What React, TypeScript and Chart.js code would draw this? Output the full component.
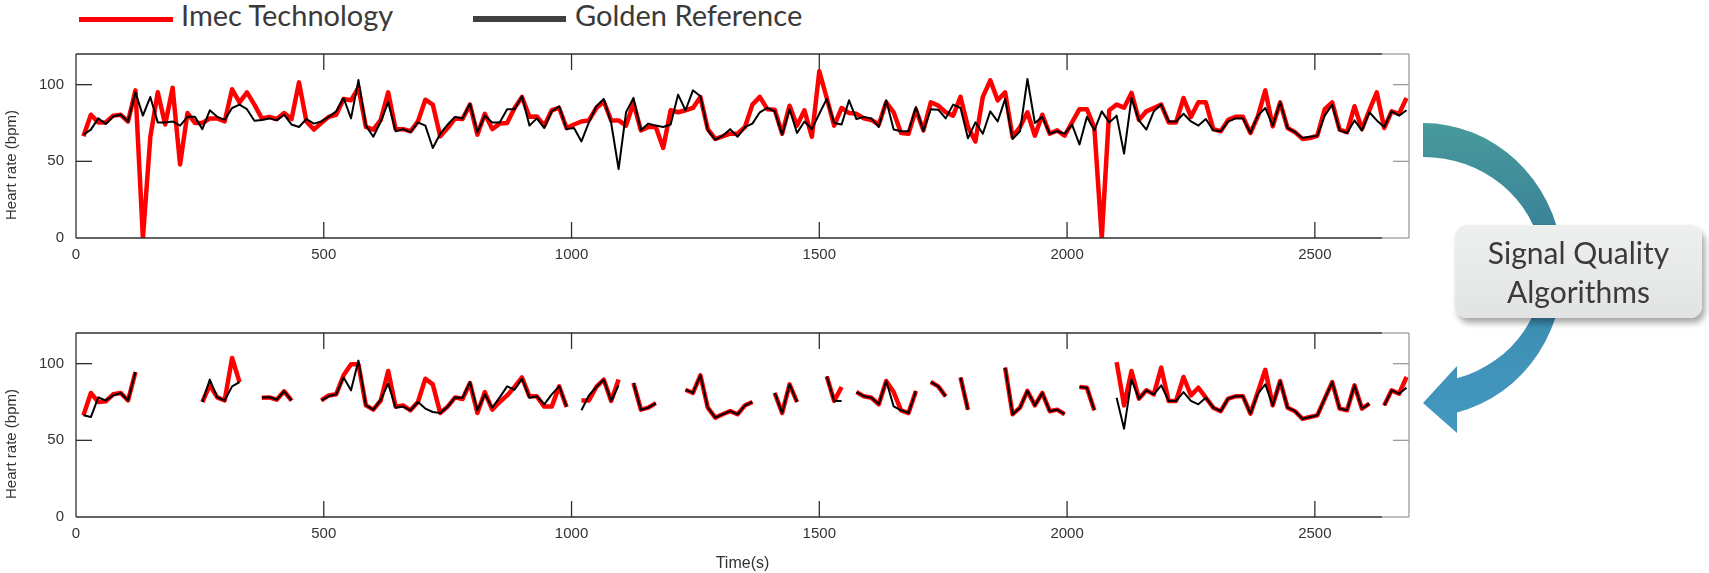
import React, { useEffect, useRef } from 'react';
import { Chart, registerables } from 'chart.js';

Chart.register(...registerables);

// ---------- data ----------
const timeSec = [
  15, 30, 45, 60, 75, 90, 105, 120, 135, 150, 165, 180,
  195, 210, 225, 240, 255, 270, 285, 300, 315, 330, 345, 360,
  375, 390, 405, 420, 435, 450, 465, 480, 495, 510, 525, 540,
  555, 570, 585, 600, 615, 630, 645, 660, 675, 690, 705, 720,
  735, 750, 765, 780, 795, 810, 825, 840, 855, 870, 885, 900,
  915, 930, 945, 960, 975, 990, 1005, 1020, 1035, 1050, 1065, 1080,
  1095, 1110, 1125, 1140, 1155, 1170, 1185, 1200, 1215, 1230, 1245, 1260,
  1275, 1290, 1305, 1320, 1335, 1350, 1365, 1380, 1395, 1410, 1425, 1440,
  1455, 1470, 1485, 1500, 1515, 1530, 1545, 1560, 1575, 1590, 1605, 1620,
  1635, 1650, 1665, 1680, 1695, 1710, 1725, 1740, 1755, 1770, 1785, 1800,
  1815, 1830, 1845, 1860, 1875, 1890, 1905, 1920, 1935, 1950, 1965, 1980,
  1995, 2010, 2025, 2040, 2055, 2070, 2085, 2100, 2115, 2130, 2145, 2160,
  2175, 2190, 2205, 2220, 2235, 2250, 2265, 2280, 2295, 2310, 2325, 2340,
  2355, 2370, 2385, 2400, 2415, 2430, 2445, 2460, 2475, 2490, 2505, 2520,
  2535, 2550, 2565, 2580, 2595, 2610, 2625, 2640, 2655, 2670, 2685,
];

// Top panel: raw Imec estimate
const imecRaw = [
  66.3, 80.4, 75.4, 75.4, 79.8, 80.4, 76, 96.3, 0, 66, 95, 74,
  98, 48, 81.5, 75, 75, 78, 78, 76, 97, 88.5, 95, 87,
  78, 79, 77.6, 81.5, 77.6, 101.5, 76, 70.7, 75, 79, 80.4, 90.7,
  89.8, 98, 72.4, 70.7, 77, 95, 71, 71, 69.6, 76, 90.2, 87,
  66.3, 71.7, 78, 77.6, 87, 67.4, 81, 71, 74.6, 75, 84.8, 92,
  79, 79.3, 73.3, 83.3, 84.8, 71.7, 74, 76, 76.7, 84.8, 89, 76.7,
  76.7, 73.3, 88, 70.2, 72.4, 72.4, 58.7, 83.3, 82, 83.3, 84.8, 92,
  71, 64.6, 66.3, 68, 68, 72.4, 87, 92, 84, 83.7, 68, 86.3,
  73.3, 83.3, 66, 108.7, 91.3, 73.3, 84.8, 81.5, 81, 78, 77, 74,
  88.5, 82, 68.5, 68, 83.7, 70.2, 88.5, 86.3, 82, 79.8, 92, 72.4,
  63, 92, 102.8, 89.8, 95, 66, 72.4, 82, 66.7, 80.4, 68, 70.2,
  66.7, 75.4, 84, 84, 72, 0, 83.3, 87, 85, 94.6, 77, 82.6,
  84.8, 87, 75.4, 75.4, 91.3, 79, 88.5, 88.5, 71, 69.6, 77, 79,
  79, 68.5, 79.3, 96.3, 72.8, 88.5, 71.7, 69, 64.6, 65.2, 66.7, 84,
  88.5, 70.7, 69, 85.9, 71, 83.3, 95, 71.7, 82.6, 81, 91.3,
];

// Top panel: golden reference
const goldenRaw = [
  67.4, 70.7, 78, 74.3, 79.3, 80.4, 76, 95, 79.8, 92, 75.4, 75.4,
  76, 73.3, 79, 79, 71, 83.3, 79, 77, 84.8, 87, 84, 76.5,
  77, 78, 76.7, 80.4, 74, 72.4, 77.6, 74.6, 76, 79, 82.6, 91.3,
  78, 103, 73.3, 66, 76, 88.5, 69.6, 71, 69, 75.4, 73.3, 58.7,
  68, 74, 79, 78, 87.6, 69, 79.8, 75.4, 75.4, 84, 84, 92.4,
  73.3, 78, 71.7, 82.6, 85.9, 71, 71.7, 63, 75.4, 85.9, 90.7, 75,
  45, 82, 91.3, 70.2, 74.6, 73.3, 72.4, 74, 93.5, 83.3, 96.3, 92.4,
  70.2, 64, 66.7, 71, 66, 72.4, 74.6, 82, 84.8, 82.6, 67.4, 84,
  68.5, 76, 71, 81, 90.7, 75, 74, 89.8, 77.6, 79, 78, 72.4,
  89.8, 70.7, 69.6, 69.6, 85.4, 69.6, 84, 83.7, 78, 87, 84.8, 65,
  75.4, 68, 82.6, 76, 90.7, 64.6, 69.6, 103.7, 75, 79, 68, 69.6,
  68, 74, 61, 79, 70.2, 82.6, 75.4, 79.8, 55, 91.3, 76.7, 70.7,
  82.6, 87, 76, 76, 81, 76, 73.3, 77.6, 70.2, 69.6, 76, 78,
  78, 68.5, 79.8, 84.8, 73.3, 88.5, 71.7, 69, 65.2, 66, 66.7, 79.8,
  87, 70.2, 68.5, 76.7, 70.2, 82, 76.7, 72.4, 82.6, 79.8, 83.3,
];

// Bottom panel: Imec after signal-quality filtering (null = rejected)
const imecFiltered = [
  66.3, 80.9, 75, 75.5, 80, 80.9, 76, 94.6, null, null, null, null,
  null, null, null, null, 75, 86, 78, 76, 103.7, 88, null, null,
  77.8, 78, 76.5, 82, 76, null, null, null, 76, 79.3, 80, 92.4,
  99.6, 99.6, 72.8, 70, 76, 95.2, 72, 72.8, 69.6, 75, 90.2, 86.5,
  67.8, 72, 78, 77, 87.4, 67.8, 81.5, 70, 75, 79.3, 84.8, 91,
  78.7, 78.7, 72, 72, 85.2, 71.7, null, 76, 76, 84.8, 89.6, 75.7,
  89.6, null, 87.4, 70, 71.3, 74.3, null, null, null, 83, 80.9, 92.4,
  71.3, 64.8, 67, 69, 67, 72.8, 75, null, null, 80.9, 67.8, 86.5,
  75, null, null, null, 91.7, 75.7, 84.8, null, 81.5, 78.7, 77.8, 73.5,
  88.7, 81.5, 69.6, 67.8, 82.2, null, 88, 85.2, 78.7, null, 91, 70,
  null, null, null, null, 97.4, 67, 71.3, 82.2, 72.8, 80.9, 69, 70,
  67, null, 84.8, 84.3, 69.6, null, null, 101, 72.8, 95.2, 77.2, 82.6,
  80, 97.4, 75.7, 75.7, 91.3, 79.3, 84.3, 77.8, 71.3, 69, 77.2, 78.7,
  78.7, 67.4, 81.5, 96, 72.8, 88.7, 71.3, 69, 64, 65.2, 66.3, 77.2,
  88, 70.7, 69.6, 85.9, 70.7, 73.9, null, 72.8, 82.6, 80.4, 91.3,
];

// Bottom panel: golden reference at the accepted instants
const goldenFiltered = [
  66.3, 65.2, 78, 76, 79.3, 80.9, 76, 94.6, null, null, null, null,
  null, null, null, null, 75, 89.6, 78, 76, 85.2, 88, null, null,
  78, 78.3, 76.5, 82, 76, null, null, null, 76, 78.7, 80, 91,
  82.6, 102, 72.8, 70, 76.5, 87, 71.3, 72, 69.6, 75, 70.7, 68.5,
  67.8, 72, 78, 77.8, 88, 69.6, 80, 71.3, 78, 85.2, 83, 90.2,
  77.8, 78.7, 73.5, 80, 85.2, 72, null, 69.6, 79.3, 84.8, 89.6, 75.7,
  85.9, null, 87.4, 70, 71.3, 74.3, null, null, null, 83, 80.9, 92.4,
  71.3, 64.8, 67, 69, 67, 72.8, 75, null, null, 80.9, 67.8, 86.5,
  75, null, null, null, 91.7, 75.7, 75.7, null, 81.5, 78.7, 77.8, 73.5,
  88.7, 72.2, 69.6, 67.8, 82.2, null, 88, 85.2, 78.7, null, 91, 70,
  null, null, null, null, 97.4, 67, 71.3, 82.2, 72.8, 80.9, 69, 70,
  67, null, 84.8, 84.3, 69.6, null, null, 77.8, 57.6, 89.6, 77.2, 82.6,
  80, 85.9, 75.7, 75.7, 81.5, 75.7, 73.5, 77.8, 71.3, 69, 77.2, 78.7,
  78.7, 67.4, 80.4, 86.5, 72.8, 88.7, 71.3, 69, 64, 65.2, 66.3, 77.2,
  88, 70.7, 69.6, 85.9, 70.7, 73.9, null, 72.8, 82.6, 80.4, 84.3,
];

const xTickValues = [0, 500, 1000, 1500, 2000, 2500];
const yTickValues = [0, 50, 100];
const X_MAX = 2690;
const Y_MAX = 120;

const seriesNames = ['Imec Technology', 'Golden Reference'];
const yAxisLabel = 'Heart rate (bpm)';
const xAxisLabel = 'Time(s)';
const boxLines = ['Signal Quality', 'Algorithms'];

// ---------- styling ----------
const AXIS_FONT = '"Liberation Sans", Arial, Helvetica, sans-serif';
const HUMANIST_FONT = 'Lato, "Open Sans", sans-serif';
const RED = '#ff0000';
const BLACK = '#000000';
const TEXT = '#333333';

const framePlugin = {
  id: 'matlabFrame',
  afterDraw(chart: any, _args: any, opts: any) {
    const { ctx, chartArea } = chart;
    const { left, right, top, bottom } = chartArea;
    const xs = chart.scales.x;
    const ys = chart.scales.y;
    const dark = '#2e2e2e';
    const light = '#9c9c9c';
    const fade = right - 27;
    ctx.save();
    ctx.lineWidth = 1.3;
    const seg = (x1: number, y1: number, x2: number, y2: number, c: string) => {
      ctx.strokeStyle = c;
      ctx.beginPath();
      ctx.moveTo(x1, y1);
      ctx.lineTo(x2, y2);
      ctx.stroke();
    };
    seg(left, top, fade, top, dark);
    seg(fade, top, right, top, light);
    seg(left, bottom, fade, bottom, dark);
    seg(fade, bottom, right, bottom, light);
    seg(left, top, left, bottom, dark);
    seg(right, top, right, bottom, light);
    const tl = 16;
    xTickValues.forEach((v) => {
      const px = xs.getPixelForValue(v);
      if (px <= left + 1) return;
      seg(px, bottom, px, bottom - tl, dark);
      seg(px, top, px, top + tl, dark);
    });
    yTickValues.forEach((v) => {
      const py = ys.getPixelForValue(v);
      if (py >= bottom - 1) return;
      seg(left, py, left + tl, py, dark);
      seg(right, py, right - tl, py, light);
    });
    if (opts && opts.yLabel) {
      ctx.translate(11.5, (top + bottom) / 2 + 19);
      ctx.rotate(-Math.PI / 2);
      ctx.font = `15px ${AXIS_FONT}`;
      ctx.fillStyle = TEXT;
      ctx.textAlign = 'center';
      ctx.textBaseline = 'middle';
      ctx.fillText(opts.yLabel, 0, 0);
    }
    ctx.restore();
  },
};

function toPoints(values: (number | null)[]) {
  return timeSec.map((t, i) => ({ x: t, y: values[i] }));
}

type PanelProps = {
  imec: (number | null)[];
  golden: (number | null)[];
  width: number;
  height: number;
  padTop: number;
  padRight: number;
  xAxisHeight: number;
  showXTitle: boolean;
};

function Panel(p: PanelProps) {
  const ref = useRef<HTMLCanvasElement | null>(null);
  useEffect(() => {
    if (!ref.current) return;
    const chart = new Chart(ref.current, {
      type: 'line',
      data: {
        datasets: [
          {
            label: seriesNames[1],
            data: toPoints(p.golden) as any,
            borderColor: BLACK,
            backgroundColor: BLACK,
            borderWidth: 2,
            borderJoinStyle: 'round',
            pointRadius: 0,
            tension: 0,
            spanGaps: false,
            order: 0,
          },
          {
            label: seriesNames[0],
            data: toPoints(p.imec) as any,
            borderColor: RED,
            backgroundColor: RED,
            borderWidth: 4.5,
            borderJoinStyle: 'round',
            pointRadius: 0,
            tension: 0,
            spanGaps: false,
            order: 1,
          },
        ],
      },
      options: {
        responsive: false,
        animation: false,
        devicePixelRatio: 1,
        events: [],
        layout: { padding: { top: p.padTop, right: p.padRight, left: 0, bottom: 0 } },
        plugins: {
          legend: { display: false },
          tooltip: { enabled: false },
          matlabFrame: { yLabel: yAxisLabel },
        } as any,
        scales: {
          x: {
            type: 'linear',
            min: 0,
            max: X_MAX,
            afterBuildTicks: (s: any) => {
              s.ticks = xTickValues.map((v) => ({ value: v }));
            },
            afterFit: (s: any) => {
              s.height = p.xAxisHeight;
            },
            grid: { display: false, drawTicks: false },
            border: { display: false },
            ticks: {
              padding: 8,
              color: TEXT,
              maxRotation: 0,
              autoSkip: false,
              font: { size: 15, family: AXIS_FONT },
              callback: (v: any) => String(v),
            },
            title: {
              display: p.showXTitle,
              text: xAxisLabel,
              color: TEXT,
              font: { size: 16, family: AXIS_FONT },
              padding: { top: 0, bottom: 0 },
            },
          },
          y: {
            type: 'linear',
            min: 0,
            max: Y_MAX,
            afterBuildTicks: (s: any) => {
              s.ticks = yTickValues.map((v) => ({ value: v }));
            },
            afterFit: (s: any) => {
              s.width = 76;
            },
            grid: { display: false, drawTicks: false },
            border: { display: false },
            ticks: {
              padding: 12,
              color: TEXT,
              font: { size: 15, family: AXIS_FONT },
              callback: (v: any) => String(v),
            },
          },
        },
      },
      plugins: [framePlugin],
    });
    return () => chart.destroy();
  }, []);
  return (
    <canvas
      ref={ref}
      width={p.width}
      height={p.height}
      style={{ width: p.width, height: p.height, display: 'block' }}
    />
  );
}

function Arrow() {
  // curved band drawn as two elliptical arcs with an arrow head at the lower-left end
  const cx = 1423;
  const cy = 270;
  const oRx = 140, oRy = 147;
  const iRx = 120, iRy = 113;
  const baseX = 1457;
  const oEndY = cy + oRy * Math.sqrt(1 - Math.pow((baseX - cx) / oRx, 2));
  const iEndY = cy + iRy * Math.sqrt(1 - Math.pow((baseX - cx) / iRx, 2));
  const d =
    `M ${cx} ${cy - oRy} A ${oRx} ${oRy} 0 0 1 ${baseX} ${oEndY}` +
    ` L ${baseX} 433 L 1423 403 L ${baseX} 366 L ${baseX} ${iEndY}` +
    ` A ${iRx} ${iRy} 0 0 0 ${cx} ${cy - iRy} Z`;
  return (
    <svg
      width={1709}
      height={573}
      style={{ position: 'absolute', left: 0, top: 0, pointerEvents: 'none' }}
    >
      <defs>
        <linearGradient id="arrowGrad" x1="0" y1="0" x2="0" y2="1">
          <stop offset="0" stopColor="#489b9d" />
          <stop offset="0.35" stopColor="#3a8198" />
          <stop offset="0.62" stopColor="#3e8eb3" />
          <stop offset="1" stopColor="#4399c1" />
        </linearGradient>
      </defs>
      <path d={d} fill="url(#arrowGrad)" />
    </svg>
  );
}

export default function App() {
  return (
    <div
      style={{
        position: 'fixed',
        left: 0,
        top: 0,
        width: 1709,
        height: 573,
        background: '#ffffff',
        overflow: 'hidden',
      }}
    >
      {/* legend */}
      <div style={{ position: 'absolute', left: 79, top: 16.5, width: 94, height: 5, background: RED }} />
      <div
        style={{
          position: 'absolute', left: 181, top: 0, fontFamily: HUMANIST_FONT, fontSize: 29,
          lineHeight: '29px', color: '#3a3a3a', whiteSpace: 'nowrap',
        }}
      >
        {seriesNames[0]}
      </div>
      <div style={{ position: 'absolute', left: 473, top: 16, width: 93, height: 6, background: '#404040' }} />
      <div
        style={{
          position: 'absolute', left: 575, top: 0, fontFamily: HUMANIST_FONT, fontSize: 29,
          lineHeight: '29px', color: '#3a3a3a', whiteSpace: 'nowrap',
        }}
      >
        {seriesNames[1]}
      </div>

      {/* charts */}
      <div style={{ position: 'absolute', left: 0, top: 0 }}>
        <Panel
          imec={imecRaw}
          golden={goldenRaw}
          width={1440}
          height={282}
          padTop={54}
          padRight={31}
          xAxisHeight={44}
          showXTitle={false}
        />
      </div>
      <div style={{ position: 'absolute', left: 0, top: 282 }}>
        <Panel
          imec={imecFiltered}
          golden={goldenFiltered}
          width={1440}
          height={291}
          padTop={51}
          padRight={31}
          xAxisHeight={56}
          showXTitle={true}
        />
      </div>

      {/* arrow + box */}
      <Arrow />
      <div
        style={{
          position: 'absolute', left: 1455, top: 225, width: 247, height: 93, borderRadius: 12,
          background: 'linear-gradient(180deg, #eef0f0 0%, #e2e4e4 100%)',
          boxShadow: '3px 5px 6px rgba(0,0,0,0.35)',
        }}
      >
        {boxLines.map((t, i) => (
          <div
            key={t}
            style={{
              position: 'absolute', left: 0, width: 247, top: 11.5 + i * 39, textAlign: 'center',
              fontFamily: HUMANIST_FONT, fontSize: 30, lineHeight: '30px', color: '#3a3a3a',
              whiteSpace: 'nowrap',
            }}
          >
            {t}
          </div>
        ))}
      </div>
    </div>
  );
}
